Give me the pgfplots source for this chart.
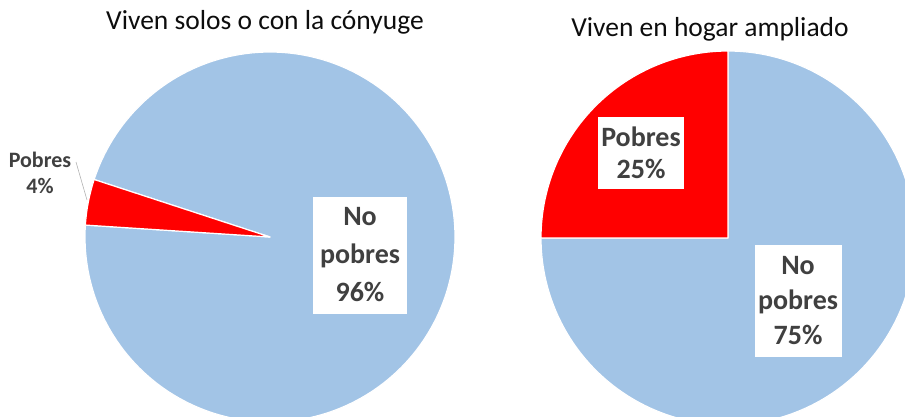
\documentclass[border=0pt]{standalone}
\usepackage{pgfplots}
\pgfplotsset{compat=1.18}
\usepackage{pgfplotstable}
\usepackage{fontspec}
\setmainfont{Carlito}
\definecolor{pieblue}{HTML}{A2C4E6}
\definecolor{piered}{HTML}{FF0000}
\definecolor{lbl}{HTML}{404040}
\definecolor{ttl}{HTML}{0D0D0D}

\pgfplotstableread{
label value
Pobres 4
NoPobres 96
}\solos
\pgfplotstableread{
label value
Pobres 25
NoPobres 75
}\ampliado

\begin{document}
\begin{tikzpicture}
\pgfplotstablegetelem{0}{value}\of\solos
\pgfmathsetmacro{\sa}{\pgfplotsretval}
\pgfplotstablegetelem{0}{value}\of\ampliado
\pgfmathsetmacro{\aa}{\pgfplotsretval}
% left pie: red slice starts at 161.9 deg
\pgfmathsetmacro{\sstart}{161.9}
\pgfmathsetmacro{\send}{\sstart+3.6*\sa}
\pgfmathsetmacro{\sfull}{\sstart+360}
% right pie: red slice ends at 180 deg
\pgfmathsetmacro{\aend}{180}
\pgfmathsetmacro{\astart}{\aend-3.6*\aa}
\pgfmathsetmacro{\afull}{\astart+360}
\useasboundingbox (0,0) rectangle (905pt,416pt);
\begin{axis}[at={(0,0)}, anchor=south west, scale only axis,
  width=905pt, height=416pt, xmin=0, xmax=905, ymin=0, ymax=416,
  hide axis, clip=true]
% left pie
\addplot[fill=pieblue, draw=white, line width=1.2pt, line join=round,
  domain=\send:\sfull, samples=200]
  ({270+185*cos(x)},{179+185*sin(x)}) -- (axis cs:270,179) -- cycle;
\addplot[fill=piered, draw=white, line width=1.2pt, line join=round,
  domain=\sstart:\send, samples=20]
  ({270+185*cos(x)},{179+185*sin(x)}) -- (axis cs:270,179) -- cycle;
% right pie
\addplot[fill=pieblue, draw=white, line width=1.2pt, line join=round,
  domain=\aend:\afull, samples=200]
  ({728+187*cos(x)},{178+187*sin(x)}) -- (axis cs:728,178) -- cycle;
\addplot[fill=piered, draw=white, line width=1.2pt, line join=round,
  domain=\astart:\aend, samples=60]
  ({728+187*cos(x)},{178+187*sin(x)}) -- (axis cs:728,178) -- cycle;

% titles
\node[anchor=base, text=ttl, font=\fontsize{27.5}{32}\selectfont]
  at (axis cs:265,386) {Viven solos o con la cónyuge};
\node[anchor=base, text=ttl, font=\fontsize{27.5}{32}\selectfont]
  at (axis cs:710,379) {Viven en hogar ampliado};

% labels
\node[fill=white, text=lbl, font=\bfseries\fontsize{28}{38}\selectfont,
  align=center, inner sep=0pt, minimum width=94pt, minimum height=117pt]
  at (axis cs:360,161) {No\\pobres\\96\%};
\node[fill=white, text=lbl, font=\bfseries\fontsize{28}{32}\selectfont,
  align=center, inner sep=0pt, minimum width=86pt, minimum height=72pt]
  at (axis cs:641,263) {Pobres\\25\%};
\node[fill=white, text=lbl, font=\bfseries\fontsize{28}{35}\selectfont,
  align=center, inner sep=0pt, minimum width=87pt, minimum height=112pt]
  at (axis cs:798,115) {No\\pobres\\75\%};
\node[text=lbl, font=\bfseries\fontsize{22}{26}\selectfont,
  align=center, inner sep=0pt]
  at (axis cs:40,243) {Pobres\\4\%};
\draw[gray!60, line width=0.6pt] (axis cs:76,254) -- (axis cs:87,216);
\end{axis}
\end{tikzpicture}
\end{document}
